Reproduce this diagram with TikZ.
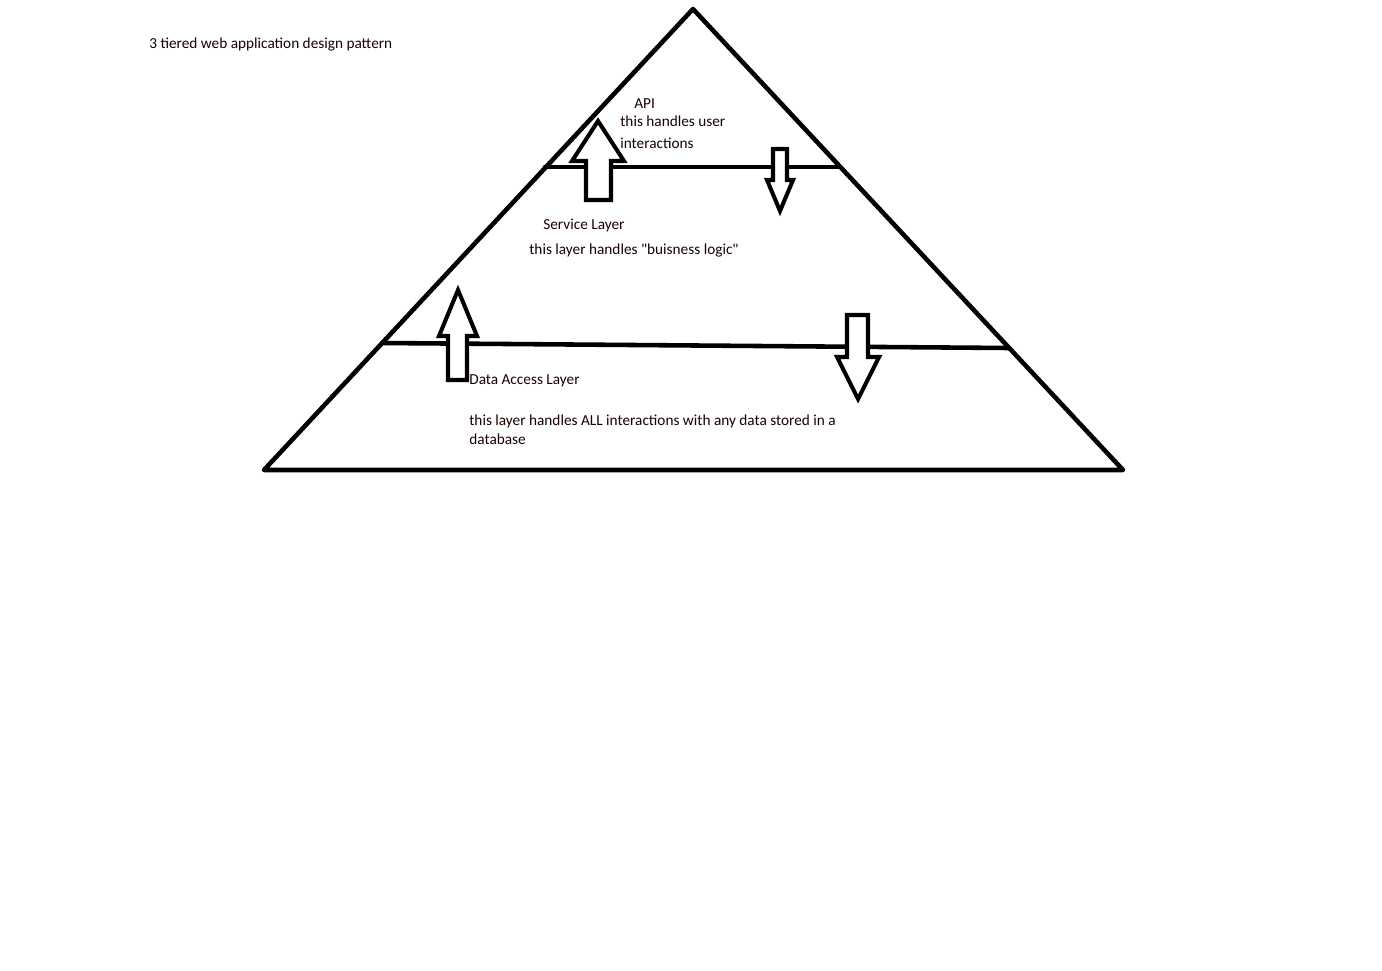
\documentclass[tikz,border=0pt]{standalone}
\usepackage{fontspec}
\newfontfamily\calib{Carlito}
\begin{document}
\begin{tikzpicture}[x=0.02cm,y=-0.02cm,
  ln/.style={draw=black,line width=2.6pt,line join=round,line cap=round},
  blk/.style={draw=black,line width=2.3pt,line join=miter,fill=white},
  lab/.style={anchor=west,inner sep=0pt,font=\calib\fontsize{8.7}{10}\selectfont,text=black!90!red}]
  \useasboundingbox (0,0) rectangle (1382,970);
  % the pyramid and the two layer borders
  \coordinate (top) at (693,9);
  \coordinate (bl) at (264,470);
  \coordinate (br) at (1123,470);
  \coordinate (u1) at (545,167); \coordinate (u2) at (840,167);
  \coordinate (d1) at (382,343); \coordinate (d2) at (1009,348);
  \draw[ln] (top)--(bl)--(br)--cycle;
  \draw[ln] (u1)--(u2);
  \draw[ln] (d1)--(d2);
  % block arrows between the layers
  \draw[blk] (586,200)--(586,161)--(572,161)--(598,121)--(624,161)--(611,161)--(611,200)--cycle;
  \draw[blk] (773,149)--(787,149)--(787,180)--(793,180)--(780,211)--(767,180)--(773,180)--cycle;
  \draw[blk] (448,380)--(448,336)--(439,336)--(458,290)--(477,336)--(467,336)--(467,380)--cycle;
  \draw[blk] (847,315)--(868,315)--(868,357)--(879,357)--(858,399)--(837,357)--(847,357)--cycle;
  % texts
  \node[lab] (title) at (149,45) {3 tiered web application design pattern};
  \node[lab] (api) at (634,104) {API};
  \node[lab] (apid1) at (620,121) {this handles user};
  \node[lab] (apid2) at (620,143) {interactions};
  \node[lab] (svc) at (543,225) {Service Layer};
  \node[lab] (svcd) at (529,251) {this layer handles "buisness logic"};
  \node[lab] (dal) at (469,381) {Data Access Layer};
  \node[lab] (dald1) at (469,421) {this layer handles ALL interactions with any data stored in a};
  \node[lab] (dald2) at (469,439) {database};
\end{tikzpicture}
\end{document}
